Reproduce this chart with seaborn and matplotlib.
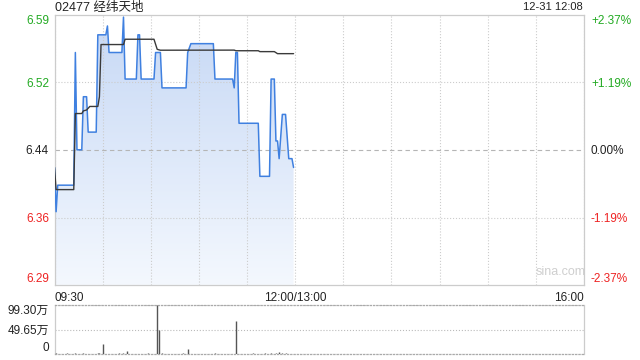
import numpy as np
import pandas as pd
import matplotlib
matplotlib.use("Agg")
import matplotlib.pyplot as plt
from matplotlib.colors import LinearSegmentedColormap
import seaborn as sns

# ---------------- data ----------------
title = "02477 经纬天地"
stamp = "12-31 12:08"
prev_close = 6.44

price_minute = [0, 1, 2, 12, 13, 14, 17, 18, 20, 21, 26, 27, 32, 33, 34, 42, 43, 44, 50, 51, 52, 53, 54,
                62, 63, 66, 67, 82, 83, 85, 99, 100, 111, 112, 113, 114, 115, 127, 128, 134, 135, 137,
                138, 139, 140, 142, 144, 146, 148, 149]
price_value = [6.42, 6.37, 6.40, 6.40, 6.55, 6.44, 6.44, 6.50, 6.50, 6.46, 6.46, 6.57, 6.57, 6.58, 6.55,
               6.55, 6.59, 6.52, 6.52, 6.52, 6.57, 6.57, 6.52,
               6.52, 6.55, 6.55, 6.51, 6.51, 6.55, 6.56, 6.56, 6.52, 6.52, 6.51, 6.55, 6.55, 6.47,
               6.47, 6.41, 6.41, 6.52, 6.52, 6.45, 6.45, 6.43, 6.48, 6.48, 6.43, 6.43, 6.42]

avg_minute = [0, 1, 12, 13, 17, 18, 20, 22, 27, 28, 29, 43, 44, 62, 64, 66, 112, 113, 127, 128, 137, 139, 149]
avg_value = [6.42, 6.395, 6.395, 6.481, 6.481, 6.484, 6.485, 6.489, 6.489, 6.50, 6.559, 6.559, 6.565,
             6.565, 6.5536, 6.5526, 6.5527, 6.552, 6.552, 6.551, 6.551, 6.5487, 6.5487]

vol_minute = [1, 3, 5, 8, 10, 13, 14, 17, 18, 21, 24, 27, 28, 30, 33, 36, 40, 43, 45, 48, 52, 55, 58,
              64, 65, 67, 70, 74, 78, 80, 83, 86, 90, 94, 98, 100, 104, 108, 113, 116, 120, 124, 128,
              131, 135, 138, 140, 142, 144, 146]
vol_value = [1.5, 1.0, 0.8, 1.2, 0.6, 1.8, 1.0, 0.8, 1.4, 1.0, 0.7, 1.6, 1.2, 20.0, 1.0, 0.8, 1.2, 1.5,
             6.0, 0.8, 1.0, 0.7, 1.1, 99.3, 48.0, 1.2, 0.8, 1.0, 0.7, 1.2, 10.0, 0.9, 0.8, 1.0, 0.7,
             1.3, 0.8, 1.0, 66.0, 0.9, 0.7, 1.1, 0.8, 1.5, 1.2, 2.0, 4.5, 1.5, 2.5, 1.0]

ytick_vals = [prev_close * (1 - 0.0237), prev_close * (1 - 0.0119), prev_close,
              prev_close * (1 + 0.0119), prev_close * (1 + 0.0237)]
ytick_labels = ["6.29", "6.36", "6.44", "6.52", "6.59"]
pct_labels = ["-2.37%", "-1.19%", "0.00%", "+1.19%", "+2.37%"]
label_colors = ["#ee2222", "#ee2222", "#222222", "#22aa22", "#22aa22"]

xtick_vals = list(range(0, 331, 30))
xtick_labels = ["09:30", "", "", "", "", "12:00/13:00", "", "", "", "", "", "16:00"]

vol_ticks = [0, 49.65, 99.30]
vol_labels = ["0", "49.65万", "99.30万"]

# ---------------- style ----------------
sns.set_style("white")
plt.rcParams["font.family"] = ["Liberation Sans", "Noto Sans CJK SC", "DejaVu Sans"]

W, H = 640, 360
fig = plt.figure(figsize=(W / 100, H / 100), dpi=100)

def fr(l, t, r, b):
    return [l / W, 1 - b / H, (r - l) / W, (b - t) / H]

ax = fig.add_axes(fr(54.5, 14.8, 584, 284.8))
axv = fig.add_axes(fr(54.5, 305, 584, 354))

price_df = pd.DataFrame({"minute": price_minute, "price": price_value})
avg_df = pd.DataFrame({"minute": avg_minute, "avg": avg_value})
vol_df = pd.DataFrame({"minute": vol_minute, "vol": vol_value})

ymin, ymax = ytick_vals[0], ytick_vals[-1]

# gradient fill under price line
fill = ax.fill_between(price_df["minute"], price_df["price"], ymin, color="none", lw=0)
grad = LinearSegmentedColormap.from_list("g", ["#f4f8fe", "#c6d8f5"])
img = ax.imshow(np.linspace(0, 1, 256).reshape(-1, 1), cmap=grad, aspect="auto",
                extent=[0, 330, ymin, ymax], origin="lower", zorder=1)
img.set_clip_path(fill.get_paths()[0], transform=ax.transData)

sns.lineplot(data=price_df, x="minute", y="price", ax=ax, color="#3f80e0", lw=1.1, zorder=3)
sns.lineplot(data=avg_df, x="minute", y="avg", ax=ax, color="#3a3a3a", lw=1.0, zorder=4)

ax.set_xlim(0, 330)
ax.set_ylim(ymin, ymax)
ax.set_xlabel("")
ax.set_ylabel("")
ax.set_xticks(xtick_vals)
ax.set_xticklabels(xtick_labels, fontsize=8.5, color="#222222")
xl = ax.get_xticklabels()
xl[0].set_ha("left")
xl[-1].set_ha("right")
ax.set_yticks(ytick_vals)
ax.set_yticklabels(ytick_labels, fontsize=8.5)
for t, c in zip(ax.get_yticklabels(), label_colors):
    t.set_color(c)
ax.get_yticklabels()[0].set_va("bottom")
ax.get_yticklabels()[-1].set_va("top")
ax.tick_params(axis="y", length=0, pad=4)
ax.tick_params(axis="x", length=0, pad=5.5)

ax.set_axisbelow(False)
ax.grid(True, axis="x", color="#cccccc", ls=":", lw=0.8, zorder=2)
for v in ytick_vals[1:-1]:
    if v == prev_close:
        ax.axhline(v, color="#b5b5b5", ls=(0, (4, 3)), lw=0.8, zorder=2)
    else:
        ax.axhline(v, color="#cccccc", ls=":", lw=0.8, zorder=2)
for s in ax.spines.values():
    s.set_color("#cccccc")
    s.set_linewidth(0.9)

axr = ax.twinx()
axr.set_ylim(ymin, ymax)
axr.set_yticks(ytick_vals)
axr.set_yticklabels(pct_labels, fontsize=8.5)
for t, c in zip(axr.get_yticklabels(), label_colors):
    t.set_color(c)
axr.get_yticklabels()[0].set_va("bottom")
axr.get_yticklabels()[-1].set_va("top")
axr.tick_params(length=0, pad=5)
for s in axr.spines.values():
    s.set_visible(False)

ax.text(0.955, 0.025, "sina.com", transform=ax.transAxes, ha="center", va="bottom",
        fontsize=9, color="#cfcfcf")

fig.text(55 / W, 1 - 7.5 / H, title, ha="left", va="center", fontsize=9, color="#222222")
fig.text(583 / W, 1 - 7.5 / H, stamp, ha="right", va="center", fontsize=8, color="#222222")

# volume
axv.vlines(vol_df["minute"], 0, vol_df["vol"], color="#555555", lw=1.0, zorder=3)
axv.set_xlim(0, 330)
axv.set_ylim(0, 99.30)
axv.set_xticks([])
axv.set_yticks(vol_ticks)
axv.set_yticklabels(vol_labels, fontsize=8.5, color="#222222")
axv.get_yticklabels()[0].set_va("bottom")
axv.get_yticklabels()[-1].set_va("top")
axv.tick_params(length=0, pad=4)
axv.grid(True, axis="y", color="#bbbbbb", ls=":", lw=0.8)
for k, s in axv.spines.items():
    s.set_color("#cccccc")
    s.set_linewidth(0.9)
    if k in ("top", "bottom"):
        s.set_linestyle(":")
        s.set_color("#aaaaaa")

fig.savefig("out.png", dpi=100)
